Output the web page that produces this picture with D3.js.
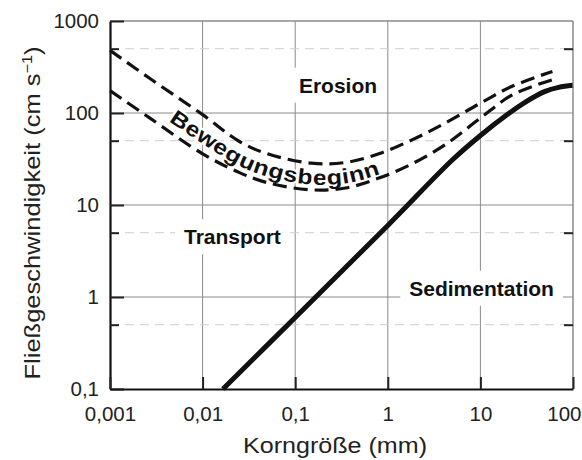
<!DOCTYPE html>
<html>
<head>
<meta charset="utf-8">
<script src="https://cdn.jsdelivr.net/npm/d3@7"></script>
<style>
  body { margin: 0; background: #fff; }
  svg { display: block; font-family: "Liberation Sans", Arial, sans-serif; }
</style>
</head>
<body>
<div id="chart"></div>
<script>
// Axis ticks
const xTicks = [0.001, 0.01, 0.1, 1, 10, 100];
const xTickLabels = ["0,001", "0,01", "0,1", "1", "10", "100"];
const yTicks = [0.1, 1, 10, 100, 1000];
const yTickLabels = ["0,1", "1", "10", "100", "1000"];
const yMinor = [0.5, 5, 50, 500];

// Bewegungsbeginn band (upper / lower dashed curves), grain size in mm, velocity cm/s
const bandD = [0.001, 0.0027, 0.01, 0.025, 0.05, 0.15, 0.35, 0.8, 1.9, 4.4, 10, 22, 60];
const upperV = [480, 237, 96, 49, 36, 28.5, 29, 36, 52, 80, 128, 195, 283];
const lowerV = [175, 88, 36, 22.5, 17.5, 14.6, 15.3, 19.6, 28.6, 47, 88, 157, 230];

// Sedimentation boundary (solid line)
const sedD = [0.0166, 0.1, 1, 5, 10, 20, 30, 50, 70, 100];
const sedV = [0.1, 0.6, 6, 31, 57, 98, 130, 172, 190, 200];

// Region labels
const regionLabels = [
    { text: "Erosion", d: 0.29, v: 200 },
    { text: "Transport", d: 0.021, v: 4.5 },
    { text: "Sedimentation", d: 10.3, v: 1.24 }
];

const W = 582, H = 460;
const margin = { top: 21, right: 9, bottom: 71, left: 110 };
const width = W - margin.left - margin.right;
const height = H - margin.top - margin.bottom;

const svg = d3.select("#chart").append("svg")
    .attr("width", W)
    .attr("height", H);

const g = svg.append("g")
    .attr("transform", `translate(${margin.left},${margin.top})`);

const x = d3.scaleLog().domain([0.001, 100]).range([0, width]);
const y = d3.scaleLog().domain([0.1, 1000]).range([height, 0]);

// Major grid
g.append("g")
    .selectAll("line")
    .data(xTicks.slice(1))
    .enter().append("line")
    .attr("x1", d => x(d)).attr("x2", d => x(d))
    .attr("y1", 0).attr("y2", height)
    .attr("stroke", "#8a8a8a").attr("stroke-width", 1);

g.append("g")
    .selectAll("line")
    .data(yTicks.slice(1))
    .enter().append("line")
    .attr("x1", 0).attr("x2", width)
    .attr("y1", d => y(d)).attr("y2", d => y(d))
    .attr("stroke", "#8a8a8a").attr("stroke-width", 1);

// Minor dashed grid
g.append("g")
    .selectAll("line")
    .data(yMinor)
    .enter().append("line")
    .attr("x1", 0).attr("x2", width)
    .attr("y1", d => y(d)).attr("y2", d => y(d))
    .attr("stroke", "#cfcfcf").attr("stroke-width", 1)
    .attr("stroke-dasharray", "9,6");

// Region labels with white boxes
regionLabels.forEach(r => {
    const t = g.append("text")
        .attr("x", x(r.d))
        .attr("y", y(r.v))
        .attr("text-anchor", "middle")
        .attr("dy", "0.35em")
        .style("font-size", "21px")
        .style("font-weight", "bold")
        .style("fill", "#111")
        .text(r.text);
    const bb = t.node().getBBox();
    g.insert("rect", () => t.node())
        .attr("x", bb.x - 9).attr("y", bb.y - 6)
        .attr("width", bb.width + 18).attr("height", bb.height + 12)
        .attr("fill", "#fff");
});

// Smooth line generator in log/log space
const line = d3.line()
    .x(d => x(d[0]))
    .y(d => y(d[1]))
    .curve(d3.curveCatmullRom.alpha(0.5));

// Middle path for the "Bewegungsbeginn" text
const midV = upperV.map((u, i) => Math.sqrt(u * lowerV[i]));
const midPath = g.append("defs").append("path")
    .attr("id", "midPath")
    .attr("d", line(bandD.map((d, i) => [d, midV[i]])));

const pNode = midPath.node();
const totalLen = pNode.getTotalLength();
function lengthAtX(px) {
    let lo = 0, hi = totalLen;
    for (let k = 0; k < 40; k++) {
        const mid = (lo + hi) / 2;
        if (pNode.getPointAtLength(mid).x < px) lo = mid; else hi = mid;
    }
    return lo;
}
const startL = lengthAtX(173 - margin.left);
const endL = lengthAtX(378 - margin.left);

g.append("text")
    .style("font-size", "21px")
    .style("font-weight", "bold")
    .style("fill", "#111")
    .attr("stroke", "#fff")
    .attr("stroke-width", 4)
    .attr("paint-order", "stroke")
    .attr("dominant-baseline", "central")
    .append("textPath")
    .attr("href", "#midPath")
    .attr("startOffset", startL)
    .attr("textLength", endL - startL)
    .attr("lengthAdjust", "spacingAndGlyphs")
    .text("Bewegungsbeginn");

// Dashed curves
[upperV, lowerV].forEach(vals => {
    g.append("path")
        .datum(bandD.map((d, i) => [d, vals[i]]))
        .attr("d", line)
        .attr("fill", "none")
        .attr("stroke", "#111")
        .attr("stroke-width", 3.2)
        .attr("stroke-dasharray", "14,7");
});

// Solid sedimentation curve
g.append("path")
    .datum(sedD.map((d, i) => [d, sedV[i]]))
    .attr("d", line)
    .attr("fill", "none")
    .attr("stroke", "#111")
    .attr("stroke-width", 5);

// Frame top / right (grey like the grid)
g.append("line").attr("x1", 0).attr("x2", width).attr("y1", 0).attr("y2", 0)
    .attr("stroke", "#8a8a8a");
g.append("line").attr("x1", width).attr("x2", width).attr("y1", 0).attr("y2", height)
    .attr("stroke", "#8a8a8a");

// Left axis
const yAxis = g.append("g")
    .call(d3.axisLeft(y)
        .tickValues(yTicks)
        .tickSize(-14)
        .tickSizeOuter(0)
        .tickPadding(11)
        .tickFormat((d, i) => yTickLabels[i]));

// Left minor ticks
g.append("g")
    .call(d3.axisLeft(y).tickValues(yMinor).tickSize(-9).tickSizeOuter(0).tickFormat(""))
    .call(s => s.select(".domain").remove());

// Right minor ticks
g.append("g")
    .attr("transform", `translate(${width},0)`)
    .call(d3.axisRight(y).tickValues(yMinor).tickSize(-9).tickSizeOuter(0).tickFormat(""))
    .call(s => s.select(".domain").remove());

// Bottom axis
const xAxis = g.append("g")
    .attr("transform", `translate(0,${height})`)
    .call(d3.axisBottom(x)
        .tickValues(xTicks)
        .tickSize(-12)
        .tickSizeOuter(0)
        .tickPadding(17)
        .tickFormat((d, i) => xTickLabels[i]));

// last x label would run off the page: pull it inside
xAxis.selectAll(".tick text")
    .filter(d => d === 100)
    .attr("text-anchor", "end")
    .attr("x", W - 1 - margin.left - width);

[yAxis, xAxis].forEach(a => {
    a.select(".domain").attr("stroke", "#111").attr("stroke-width", 2.2);
    a.selectAll(".tick text")
        .style("font-size", "20.5px")
        .style("font-family", "'Liberation Sans', Arial, sans-serif")
        .attr("fill", "#222");
});
g.selectAll(".tick line").attr("stroke", "#222").attr("stroke-width", 2);

// Axis titles
svg.append("text")
    .attr("x", 335)
    .attr("y", 453)
    .attr("text-anchor", "middle")
    .attr("textLength", 184)
    .attr("lengthAdjust", "spacingAndGlyphs")
    .style("font-size", "22px")
    .style("fill", "#222")
    .text("Korngröße (mm)");

const yTitle = svg.append("text")
    .attr("transform", "translate(40,213) rotate(-90)")
    .attr("text-anchor", "middle")
    .attr("textLength", 333)
    .attr("lengthAdjust", "spacingAndGlyphs")
    .style("font-size", "22px")
    .style("fill", "#222");
yTitle.append("tspan").text("Fließgeschwindigkeit (cm s");
yTitle.append("tspan").attr("baseline-shift", "super").style("font-size", "14px").text("−1");
yTitle.append("tspan").text(")");
</script>
</body>
</html>
